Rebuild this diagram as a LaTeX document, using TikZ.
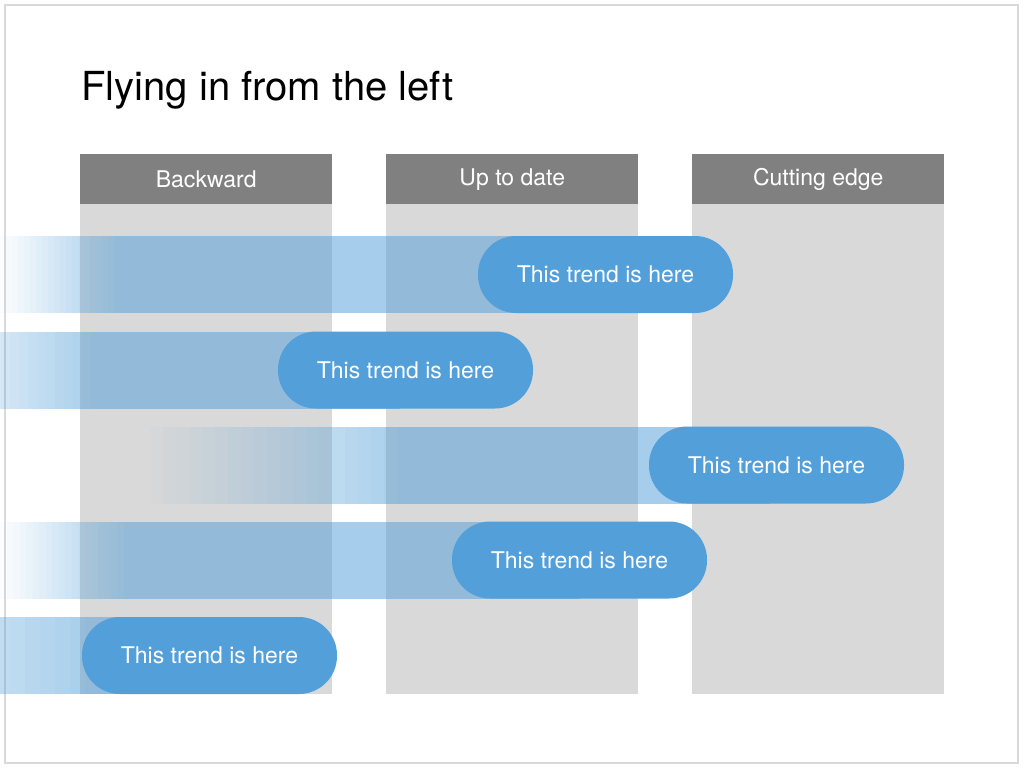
\documentclass[tikz,border=0pt]{standalone}
\usepackage{fontspec}
\setmainfont{TeX Gyre Heros}
\begin{document}
\begin{tikzpicture}[x=1pt,y=-1pt,
  hdr/.style={fill=black!50,text=white,minimum width=252pt,minimum height=50pt,inner sep=0pt,font=\fontsize{23}{26}\selectfont},
  colbody/.style={fill=black!15},
  pill/.style={fill=pillblue,text=white,rounded corners=38pt,minimum width=255pt,minimum height=77pt,inner sep=0pt,font=\fontsize{23}{26}\selectfont}]
\definecolor{pillblue}{HTML}{539FDA}
\definecolor{barblue}{HTML}{4E9CD8}
\useasboundingbox (0,0) rectangle (1024,768);
\draw[black!15,line width=1.5pt] (5,5) rectangle (1018,763);
\node[anchor=base west,font=\fontsize{40}{44}\selectfont] (title) at (78,100) {Flying in from the left};
\foreach \x/\t/\n in {80/Backward/a,386/Up to date/b,692/Cutting edge/c}{
  \fill[colbody] (\x,203) rectangle (\x+252,694);
  \node[hdr,anchor=north west] (h\n) at (\x,154) {\t};
}
\newcommand{\fadebar}[5]{% x0 fadelen x1 ytop ybot
  \foreach \i in {0,...,19}{
    \fill[barblue,fill opacity={0.5*(\i+1)/20}] ({#1+\i*#2/20},#4) rectangle ({#1+(\i+1)*#2/20+0.3},#5);
  }
  \fill[barblue,fill opacity=0.5] ({#1+#2},#4) rectangle (#3,#5);
}
\begin{scope}
\clip (0,0) rectangle (1024,768);
\fadebar{0}{120}{600}{236}{313}
\fadebar{-80}{180}{400}{332}{409}
\fadebar{150}{260}{770}{427}{504}
\fadebar{0}{130}{580}{522}{599}
\fadebar{-200}{300}{200}{617}{694}
\end{scope}
\node[pill] (p1) at (605.5,274.5) {This trend is here};
\node[pill] (p2) at (405.5,370) {This trend is here};
\node[pill] (p3) at (776.5,465) {This trend is here};
\node[pill] (p4) at (579.5,560) {This trend is here};
\node[pill] (p5) at (209.5,655.5) {This trend is here};
\end{tikzpicture}
\end{document}
